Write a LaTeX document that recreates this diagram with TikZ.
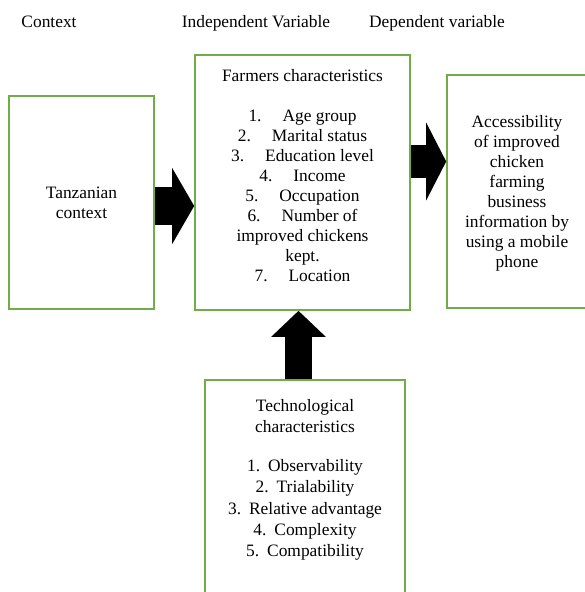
\documentclass[tikz,border=0pt]{standalone}
\usepackage{fontspec}
\setmainfont{Liberation Serif}
\usetikzlibrary{arrows.meta}
\definecolor{boxgreen}{RGB}{112,173,71}
\tikzset{
  gbox/.style={draw=boxgreen, line width=1.6pt, minimum width=#1, inner sep=0pt},
  txt/.style={font=\fontsize{17.4}{20}\selectfont, align=center, inner sep=0pt},
  hdr/.style={font=\fontsize{17.4}{20}\selectfont, inner sep=0pt, anchor=base},
  blockarrow/.style={line width=#1, draw=black, line cap=butt},
}
\newcommand\itm[2]{#1\hspace{21pt}#2}
\newcommand\titm[2]{#1\hspace{8pt}#2}
\begin{document}
\begin{tikzpicture}[x=1pt,y=-1pt]
\clip (0,0) rectangle (585,592);
\fill[white] (0,0) rectangle (585,592);
% headers
\node[hdr] (h1) at (49,27) {Context};
\node[hdr] (h2) at (256,27) {Independent Variable};
\node[hdr] (h3) at (437,27) {Dependent variable};
% boxes
\node[gbox=145pt, minimum height=213pt] (ctx) at (81.5,202.5) {};
\node[gbox=215pt, minimum height=255pt] (farm) at (302.5,182.5) {};
\node[gbox=139pt, minimum height=233pt] (dep) at (516.5,191.5) {};
\node[gbox=200pt, minimum height=240pt] (tech) at (305,500) {};
% texts
\node[txt] (ctxt) at (81.5,203) {Tanzanian\\context};
\node[txt, anchor=north] (ftxt) at (302.5,69) {Farmers characteristics\\[20pt]
\itm{1.}{Age group}\\
\itm{2.}{Marital status}\\
\itm{3.}{Education level}\\
\itm{4.}{Income}\\
\itm{5.}{Occupation}\\
\itm{6.}{Number of}\\
improved chickens\\
kept.\\
\itm{7.}{Location}};
\node[txt] (dtxt) at (517,193.5) {Accessibility\\of improved\\chicken\\farming\\business\\information by\\using a mobile\\phone};
\node[txt, font=\fontsize{17.4}{21.2}\selectfont, anchor=north] (ttxt) at (305,399) {Technological\\characteristics\\[18pt]
\titm{1.}{Observability}\\
\titm{2.}{Trialability}\\
\titm{3.}{Relative advantage}\\
\titm{4.}{Complexity}\\
\titm{5.}{Compatibility}};
% block arrows
\draw[blockarrow=38pt, -{Triangle[length=22pt,width=75pt]}] (ctx.east |- 0,206) -- (farm.west |- 0,206);
\draw[blockarrow=33pt, -{Triangle[length=20pt,width=77pt]}] (farm.east |- 0,161.5) -- (dep.west |- 0,161.5);
\draw[blockarrow=27pt, -{Triangle[length=26pt,width=53pt]}] (tech.north -| 298.5,0) -- (farm.south -| 298.5,0);
\end{tikzpicture}
\end{document}
